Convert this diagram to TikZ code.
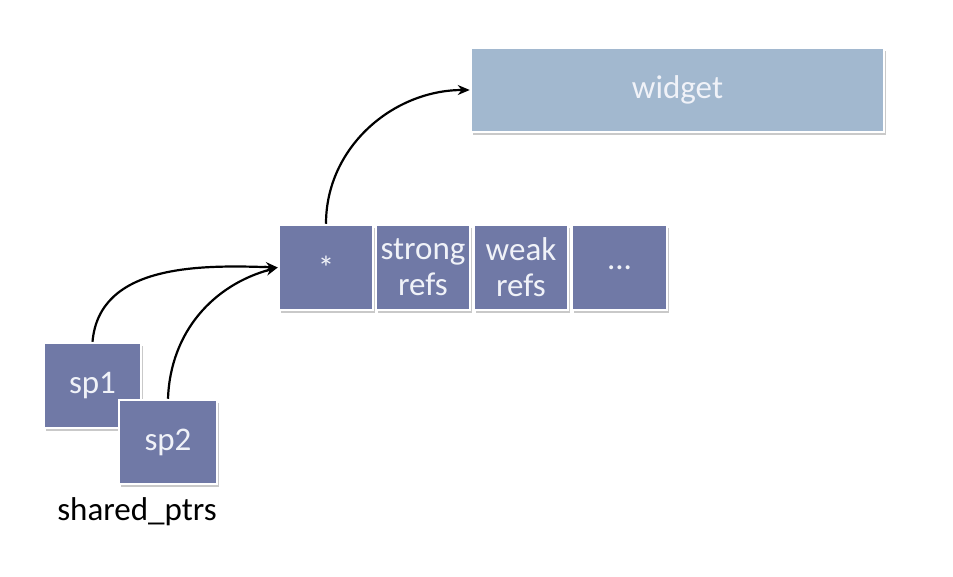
\documentclass[tikz,border=0pt]{standalone}
\usepackage{fontspec}
\setmainfont{Carlito}
\usetikzlibrary{shadows,arrows.meta}
\definecolor{cellblue}{RGB}{112,121,166}
\definecolor{widgetblue}{RGB}{162,184,207}
\definecolor{celltext}{RGB}{240,242,248}
\tikzset{
  cell/.style={draw=white, line width=2.5pt, fill=cellblue, inner sep=0pt,
    text=celltext, font=\fontsize{33}{36}\selectfont, align=center,
    drop shadow={shadow xshift=1.5pt, shadow yshift=-2.5pt, opacity=0.35, fill=black!60}},
  wbox/.style={cell, fill=widgetblue},
  link/.style={-{Stealth[length=12pt,width=10pt]}, line width=2.2pt, black},
}
\begin{document}
\begin{tikzpicture}[x=1pt,y=-1pt]
\useasboundingbox[fill=white] (0,0) rectangle (953,576);
\node[wbox, minimum width=413pt, minimum height=84pt] (widget) at (677.5,90) {widget};
\node[cell, minimum width=94pt, minimum height=85pt] (star) at (326,267.5) {*};
\node[cell, minimum width=94pt, minimum height=85pt] (strong) at (423,267.5) {strong\\refs};
\node[cell, minimum width=94pt, minimum height=85pt] (weak) at (521,267.5) {weak\\refs};
\node[cell, minimum width=95pt, minimum height=85pt] (more) at (619.5,267.5) {...};
\node[cell, minimum width=97pt, minimum height=85pt] (sp1) at (92.5,385.5) {sp1};
\node[cell, minimum width=98pt, minimum height=84pt] (sp2) at (168,442) {sp2};
\node[font=\fontsize{33}{36}\selectfont, text=black] (lbl) at (137,512) {shared\_ptrs};
\draw[link] (star.north) to[out=90,in=180] (widget.west);
\draw[link] (sp1.north) to[out=85,in=178] (star.west);
\draw[link] (sp2.north) to[out=88,in=195] (star.west);
\end{tikzpicture}
\end{document}
